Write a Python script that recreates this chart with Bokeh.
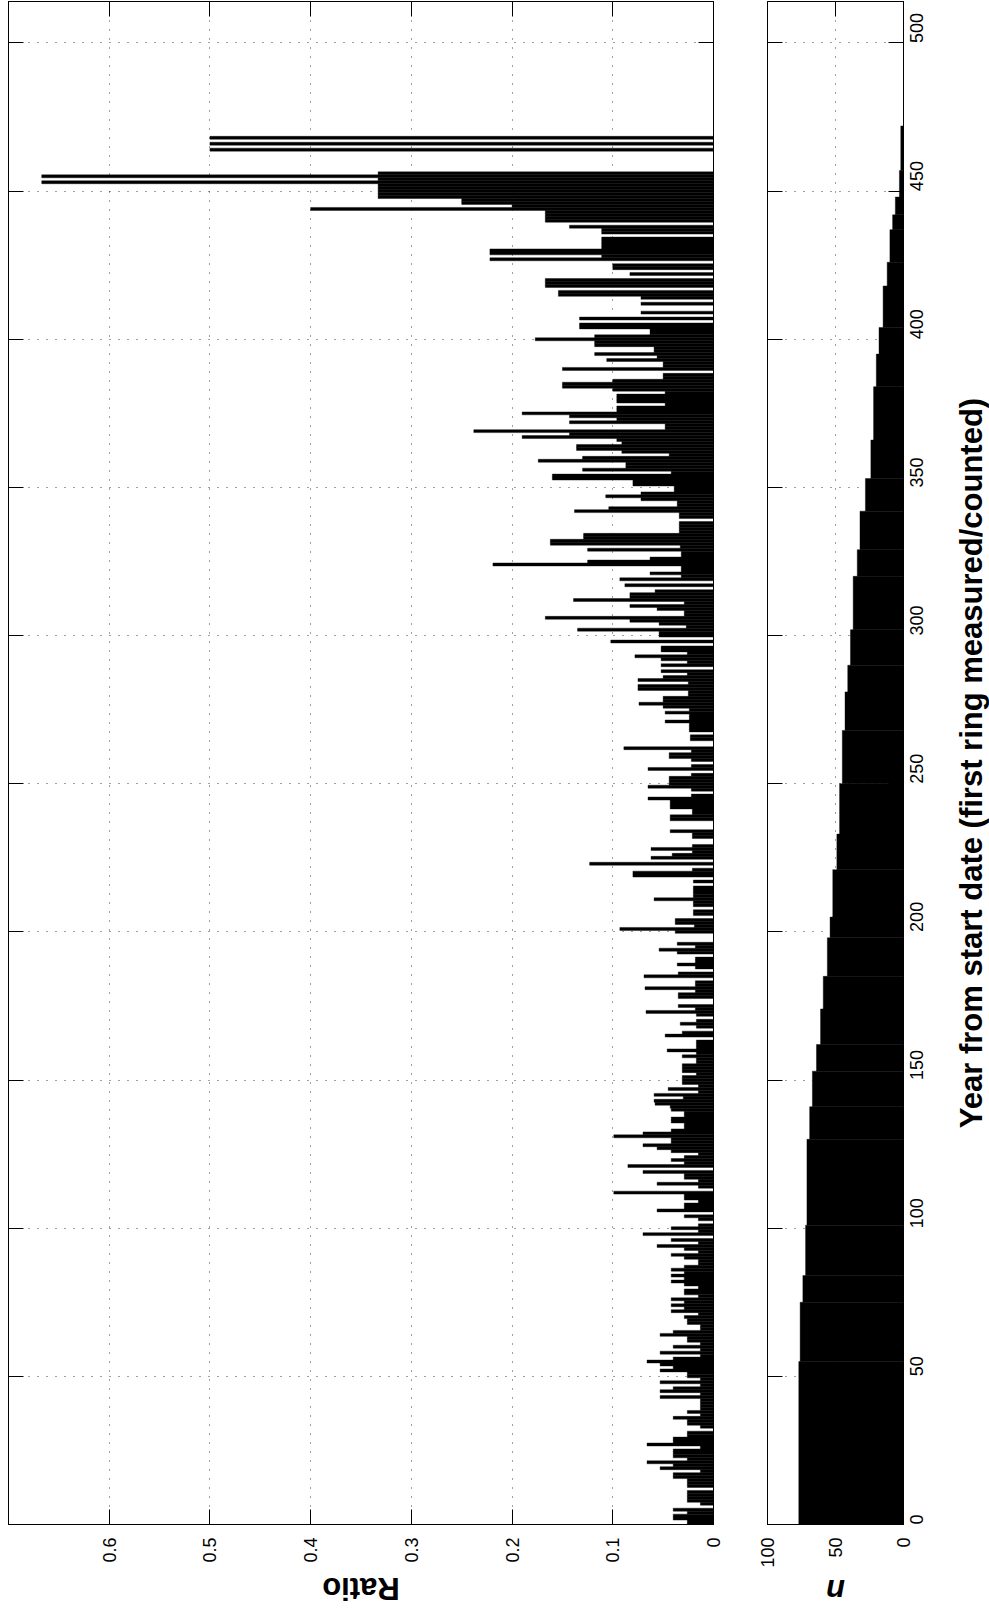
import math
from bokeh.plotting import figure
from bokeh.layouts import row, column
from bokeh.models import Range1d, LinearAxis, FixedTicker, Grid, ColumnDataSource
from bokeh.core.properties import value
from bokeh.embed import file_html
from bokeh.resources import INLINE

# ---------------- data ----------------
years = list(range(472))
ratio = [
    0.026, 0.026, 0.040, 0.040, 0.026, 0.040, 0.000, 0.013, 0.026, 0.026,
    0.026, 0.026, 0.000, 0.026, 0.026, 0.026, 0.040, 0.040, 0.013, 0.053,
    0.040, 0.066, 0.026, 0.040, 0.040, 0.040, 0.013, 0.066, 0.040, 0.040,
    0.026, 0.026, 0.000, 0.013, 0.026, 0.026, 0.040, 0.013, 0.026, 0.013,
    0.013, 0.013, 0.013, 0.053, 0.013, 0.053, 0.040, 0.013, 0.053, 0.013,
    0.026, 0.026, 0.053, 0.040, 0.053, 0.066, 0.040, 0.013, 0.053, 0.013,
    0.040, 0.013, 0.026, 0.026, 0.053, 0.040, 0.013, 0.013, 0.026, 0.026,
    0.029, 0.015, 0.042, 0.029, 0.042, 0.029, 0.042, 0.015, 0.029, 0.029,
    0.015, 0.029, 0.042, 0.029, 0.042, 0.029, 0.042, 0.029, 0.015, 0.015,
    0.029, 0.042, 0.015, 0.029, 0.056, 0.015, 0.042, 0.000, 0.070, 0.015,
    0.042, 0.015, 0.000, 0.015, 0.029, 0.000, 0.056, 0.029, 0.029, 0.015,
    0.029, 0.029, 0.099, 0.000, 0.015, 0.056, 0.015, 0.029, 0.029, 0.070,
    0.000, 0.085, 0.029, 0.042, 0.029, 0.015, 0.042, 0.056, 0.070, 0.042,
    0.042, 0.099, 0.070, 0.042, 0.029, 0.029, 0.042, 0.042, 0.029, 0.029,
    0.042, 0.043, 0.058, 0.059, 0.030, 0.059, 0.015, 0.045, 0.015, 0.031,
    0.031, 0.031, 0.017, 0.031, 0.031, 0.031, 0.017, 0.017, 0.031, 0.017,
    0.046, 0.017, 0.017, 0.017, 0.000, 0.048, 0.031, 0.000, 0.017, 0.033,
    0.017, 0.000, 0.017, 0.067, 0.018, 0.035, 0.000, 0.000, 0.035, 0.035,
    0.018, 0.068, 0.018, 0.018, 0.000, 0.069, 0.035, 0.000, 0.018, 0.036,
    0.018, 0.018, 0.000, 0.036, 0.054, 0.018, 0.036, 0.000, 0.000, 0.000,
    0.038, 0.093, 0.019, 0.038, 0.038, 0.000, 0.020, 0.020, 0.000, 0.020,
    0.020, 0.059, 0.020, 0.020, 0.020, 0.020, 0.000, 0.020, 0.000, 0.080,
    0.080, 0.021, 0.000, 0.123, 0.000, 0.062, 0.041, 0.021, 0.062, 0.021,
    0.000, 0.000, 0.021, 0.021, 0.043, 0.000, 0.000, 0.000, 0.043, 0.043,
    0.021, 0.021, 0.043, 0.043, 0.043, 0.065, 0.022, 0.000, 0.022, 0.065,
    0.044, 0.044, 0.044, 0.022, 0.000, 0.065, 0.022, 0.000, 0.022, 0.044,
    0.044, 0.022, 0.089, 0.000, 0.000, 0.023, 0.023, 0.000, 0.024, 0.024,
    0.024, 0.048, 0.024, 0.024, 0.048, 0.024, 0.050, 0.074, 0.050, 0.050,
    0.025, 0.025, 0.075, 0.075, 0.025, 0.075, 0.050, 0.026, 0.052, 0.000,
    0.052, 0.026, 0.052, 0.078, 0.026, 0.052, 0.052, 0.000, 0.102, 0.000,
    0.054, 0.054, 0.135, 0.027, 0.054, 0.083, 0.167, 0.029, 0.029, 0.056,
    0.083, 0.029, 0.139, 0.083, 0.083, 0.058, 0.000, 0.088, 0.000, 0.093,
    0.032, 0.063, 0.032, 0.032, 0.219, 0.125, 0.063, 0.032, 0.032, 0.125,
    0.033, 0.162, 0.162, 0.129, 0.129, 0.034, 0.034, 0.034, 0.034, 0.000,
    0.034, 0.034, 0.138, 0.104, 0.036, 0.036, 0.072, 0.107, 0.072, 0.039,
    0.039, 0.080, 0.080, 0.160, 0.160, 0.042, 0.130, 0.087, 0.087, 0.174,
    0.130, 0.044, 0.091, 0.136, 0.136, 0.091, 0.096, 0.190, 0.143, 0.238,
    0.048, 0.048, 0.143, 0.096, 0.143, 0.190, 0.096, 0.096, 0.048, 0.096,
    0.096, 0.096, 0.048, 0.100, 0.150, 0.150, 0.100, 0.050, 0.050, 0.000,
    0.150, 0.050, 0.050, 0.106, 0.056, 0.118, 0.059, 0.059, 0.118, 0.118,
    0.177, 0.118, 0.063, 0.063, 0.133, 0.133, 0.000, 0.133, 0.000, 0.072,
    0.000, 0.000, 0.072, 0.000, 0.072, 0.154, 0.154, 0.000, 0.167, 0.167,
    0.167, 0.000, 0.083, 0.000, 0.100, 0.100, 0.000, 0.222, 0.111, 0.222,
    0.222, 0.111, 0.111, 0.111, 0.111, 0.000, 0.111, 0.111, 0.143, 0.000,
    0.167, 0.167, 0.167, 0.167, 0.400, 0.200, 0.250, 0.250, 0.333, 0.333,
    0.333, 0.333, 0.333, 0.667, 0.333, 0.667, 0.333, 0.000, 0.000, 0.000,
    0.000, 0.000, 0.000, 0.000, 0.500, 0.000, 0.500, 0.000, 0.500, 0.000,
    0.000, 0.000,
]

# sample size n (step segments: start year, end year, n)
n_start = [0, 55, 75, 84, 101, 130, 141, 153, 162, 174, 185, 198, 205, 221, 233, 250, 268,
           281, 290, 302, 320, 329, 342, 353, 366, 384, 395, 404, 418, 426, 437, 442, 448, 457]
n_end = [55, 75, 84, 101, 130, 141, 153, 162, 174, 185, 198, 205, 221, 233, 250, 268, 281,
         290, 302, 320, 329, 342, 353, 366, 384, 395, 404, 418, 426, 437, 442, 448, 457, 472]
n_value = [77, 76, 74, 72, 71, 69, 67, 64, 61, 59, 56, 54, 52, 49, 47, 45, 43,
           41, 39, 37, 34, 32, 28, 24, 22, 20, 18, 15, 12, 10, 8, 6, 3, 2]

year_ticks = [0, 50, 100, 150, 200, 250, 300, 350, 400, 450, 500]
ratio_ticks = [0, 0.1, 0.2, 0.3, 0.4, 0.5, 0.6]
ratio_labels = {0: "0", 0.1: "0.1", 0.2: "0.2", 0.3: "0.3", 0.4: "0.4", 0.5: "0.5", 0.6: "0.6"}
n_ticks = [0, 50, 100]

year_label = "Year from start date (first ring measured/counted)"
ratio_label = "Ratio"
n_label = "n"

# ---------------- styling ----------------
FONT = "Liberation Sans"
FRAME_H = 1523
TICK_FS = "18px"
TITLE_FS = "31px"
YEAR_MAX = 514
BOTTOM = 44      # border under the panels (tick labels)
LAB_H = 40       # strip holding the bottom titles
LEFT1, W1, RIGHT1 = 8, 705, 26
LEFT2, W2, RIGHT2 = 28, 136, 50
W3 = 36          # strip holding the year title


def make_axis(ticks, show_labels, tick_in=15, overrides=None, standoff=13):
    ax = LinearAxis(ticker=FixedTicker(ticks=ticks))
    ax.major_tick_in = tick_in
    ax.major_tick_out = 0
    ax.minor_tick_line_color = None
    ax.axis_line_color = "black"
    ax.major_tick_line_color = "black"
    ax.major_label_text_font = FONT
    if show_labels:
        ax.major_label_text_color = "black"
        ax.major_label_text_font_size = TICK_FS
        ax.major_label_orientation = math.pi / 2
        ax.major_label_standoff = standoff
    else:
        ax.major_label_text_color = None
        ax.major_label_text_font_size = "1px"
        ax.major_label_standoff = 0
    if overrides:
        ax.major_label_overrides = overrides
    return ax


def clear_default_grids(p):
    for r in list(p.center):
        if isinstance(r, Grid):
            p.center.remove(r)


def add_grids(p, xticks, yticks):
    for dim, ticks in ((0, xticks), (1, yticks)):
        g = Grid(dimension=dim, ticker=FixedTicker(ticks=ticks))
        g.grid_line_color = "black"
        g.grid_line_alpha = 0.75
        g.grid_line_width = 1
        g.grid_line_dash = "1 8"
        p.add_layout(g)


def blank_fig(**kw):
    f = figure(x_axis_location=None, y_axis_location=None,
               output_backend="svg", toolbar_location=None, **kw)
    f.outline_line_color = None
    f.background_fill_color = "white"
    f.border_fill_color = "white"
    clear_default_grids(f)
    return f


y_range = Range1d(0, YEAR_MAX)
x1 = Range1d(0.7, 0)
x2 = Range1d(100, 0)

# ---------------- main panel (Ratio) ----------------
p1 = figure(frame_width=W1, frame_height=FRAME_H, x_range=x1, y_range=y_range,
            x_axis_location=None, y_axis_location=None,
            output_backend="svg", toolbar_location=None,
            min_border_left=LEFT1, min_border_top=1, min_border_right=RIGHT1,
            min_border_bottom=BOTTOM)
p1.outline_line_color = "black"
p1.outline_line_width = 1
p1.background_fill_color = "white"
p1.border_fill_color = "white"
clear_default_grids(p1)

p1.add_layout(make_axis(ratio_ticks, True, overrides=ratio_labels), "below")
p1.add_layout(make_axis(ratio_ticks, False), "above")
p1.add_layout(make_axis(year_ticks, False), "left")
p1.add_layout(make_axis(year_ticks, False), "right")
add_grids(p1, ratio_ticks, year_ticks)

src = ColumnDataSource(dict(year=years, ratio=ratio))
p1.hbar(y="year", left=0, right="ratio", height=1, source=src,
        fill_color="black", line_color="black", line_width=0.4)

# title strip under the main panel
t1 = blank_fig(frame_width=W1, frame_height=LAB_H, x_range=x1, y_range=Range1d(0, 1),
               min_border_left=LEFT1, min_border_right=RIGHT1,
               min_border_top=0, min_border_bottom=0)
t1.text(x=[(x1.start + x1.end) / 2], y=[0.5], text=[ratio_label], angle=math.pi,
        text_align="center", text_baseline="middle", text_font=value(FONT),
        text_font_size=TITLE_FS, text_font_style="bold", text_color="black")

# ---------------- n panel ----------------
p2 = figure(frame_width=W2, frame_height=FRAME_H, x_range=x2, y_range=y_range,
            x_axis_location=None, y_axis_location=None,
            output_backend="svg", toolbar_location=None,
            min_border_left=LEFT2, min_border_top=1, min_border_right=RIGHT2,
            min_border_bottom=BOTTOM)
p2.outline_line_color = "black"
p2.outline_line_width = 1
p2.background_fill_color = "white"
p2.border_fill_color = "white"
clear_default_grids(p2)

p2.add_layout(make_axis(n_ticks, True), "below")
p2.add_layout(make_axis([50], False), "above")
p2.add_layout(make_axis(year_ticks, False), "left")
p2.add_layout(make_axis(year_ticks, True), "right")
add_grids(p2, [50], year_ticks)

nsrc = ColumnDataSource(dict(bottom=n_start, top=n_end, n=n_value))
p2.quad(bottom="bottom", top="top", left=0, right="n", source=nsrc,
        fill_color="black", line_color="black", line_width=0.4)

t2 = blank_fig(frame_width=W2, frame_height=LAB_H, x_range=x2, y_range=Range1d(0, 1),
               min_border_left=LEFT2, min_border_right=RIGHT2,
               min_border_top=0, min_border_bottom=0)
t2.text(x=[(x2.start + x2.end) / 2], y=[0.5], text=[n_label], angle=math.pi,
        text_align="center", text_baseline="middle", text_font=value(FONT),
        text_font_size=TITLE_FS, text_font_style="bold italic", text_color="black")

# ---------------- year title strip ----------------
t3 = blank_fig(frame_width=W3, frame_height=FRAME_H, x_range=Range1d(0, 1), y_range=y_range,
               min_border_left=0, min_border_right=0, min_border_top=1,
               min_border_bottom=BOTTOM + LAB_H)
t3.text(x=[0.5], y=[YEAR_MAX / 2], text=[year_label], angle=math.pi / 2,
        text_align="center", text_baseline="middle", text_font=value(FONT),
        text_font_size=TITLE_FS, text_font_style="bold", text_color="black")

layout = row(column(p1, t1), column(p2, t2), t3)
open("out.html", "w").write(file_html(layout, INLINE))
